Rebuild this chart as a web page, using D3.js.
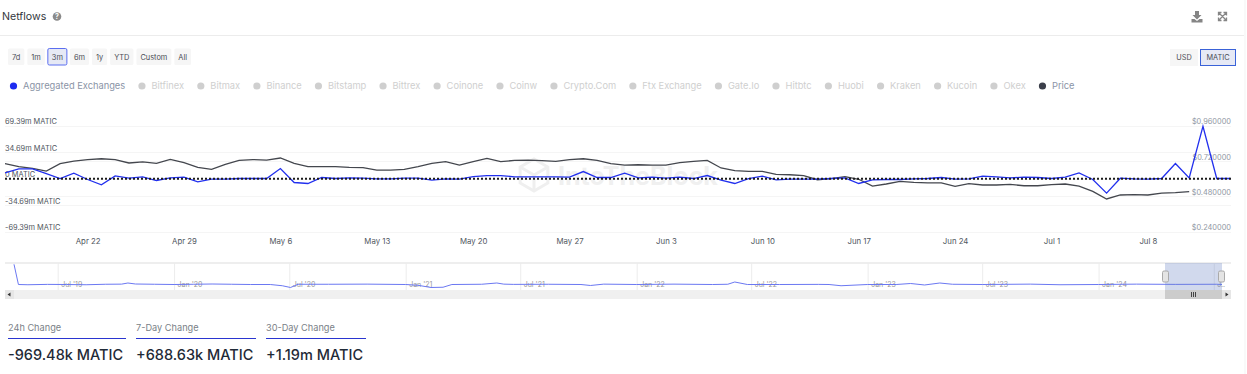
<!DOCTYPE html>
<html>
<head>
<meta charset="utf-8">
<script src="https://cdn.jsdelivr.net/npm/d3@7"></script>
<style>
  html, body { margin: 0; padding: 0; background: #fff; overflow: hidden; }
  svg { display: block; font-family: Inter, "Noto Sans", sans-serif; }
  .domain { display: none; }
</style>
</head>
<body>
<svg id="chart" width="1247" height="374"></svg>
<script>
// netflows in millions of MATIC, one value per day from Apr 16 2024
const netflow = [7.85, 13.09, 13.09, 6.98, 0.44, 7.42, -0.87, -7.85, 3.93, 0.87, 2.62, -2.18, 1.31, 2.18, -3.93,
  -0.44, -0.44, 0.44, 0.44, 0.44, 13.5, -4.8, -6.1, 1.75, 0.44, 1.31, 0.87, 0, 0, 0.87,
  0.87, -1.75, 0, -0.44, 3.05, 4.36, 4.36, 2.62, 2.62, 2.62, 2.62, 2.18, 9.6, 1.75, 1.75,
  7.42, 1.31, 2.18, 0.87, 2.18, 0.44, 4.36, -1.75, -6.1, 0.44, 3.49, -1.31, -0.44, -0.44, -0.44,
  0.44, 1.31, -6.1, -1.31, -0.87, -0.87, 0, 0.44, 1.75, -0.44, 0, 3.49, 2.62, 1.31, 2.18,
  1.75, 0.44, 2.18, 7.85, -0.87, -18.8, 0.87, 0, -0.44, 0.44, 20.1, 1.31, 68.9, 0.44, 0.44];
// price stops a few days before the netflow series does
const price = [0.703, 0.683, 0.671, 0.653, 0.703, 0.721, 0.731, 0.737, 0.731, 0.708, 0.715, 0.706, 0.733, 0.710, 0.678,
  0.665, 0.699, 0.726, 0.731, 0.728, 0.742, 0.706, 0.683, 0.683, 0.683, 0.678, 0.676, 0.660, 0.660, 0.665,
  0.683, 0.706, 0.717, 0.694, 0.717, 0.740, 0.717, 0.726, 0.728, 0.724, 0.719, 0.731, 0.737, 0.726, 0.703,
  0.694, 0.696, 0.694, 0.694, 0.710, 0.719, 0.726, 0.674, 0.656, 0.651, 0.651, 0.631, 0.628, 0.622, 0.594,
  0.601, 0.615, 0.597, 0.551, 0.565, 0.583, 0.576, 0.572, 0.572, 0.549, 0.567, 0.558, 0.558, 0.562, 0.553,
  0.553, 0.560, 0.565, 0.551, 0.515, 0.463, 0.490, 0.492, 0.490, 0.503, 0.506, 0.513];

const leftTicks = [69.39, 34.69, 0, -34.69, -69.39];
const leftLabels = ['69.39m MATIC', '34.69m MATIC', '0 MATIC', '-34.69m MATIC', '-69.39m MATIC'];
const rightTicks = [0.96, 0.72, 0.48, 0.24];
const dateTicks = ['2024-04-22', '2024-04-29', '2024-05-06', '2024-05-13', '2024-05-20', '2024-05-27',
  '2024-06-03', '2024-06-10', '2024-06-17', '2024-06-24', '2024-07-01', '2024-07-08'];

const rangeButtons = ['7d', '1m', '3m', '6m', '1y', 'YTD', 'Custom', 'All'];
const exchanges = ['Aggregated Exchanges', 'Bitfinex', 'Bitmax', 'Binance', 'Bitstamp', 'Bittrex', 'Coinone', 'Coinw',
  'Crypto.Com', 'Ftx Exchange', 'Gate.Io', 'Hitbtc', 'Huobi', 'Kraken', 'Kucoin', 'Okex', 'Price'];
const statLabels = ['24h Change', '7-Day Change', '30-Day Change'];
const statValues = ['-969.48k MATIC', '+688.63k MATIC', '+1.19m MATIC'];

// navigator, whole history
const navDates = ['2019-04-23', '2019-04-30', '2019-05-15', '2019-06-15', '2019-07-15', '2019-08-15', '2019-09-15', '2019-10-10',
  '2019-10-20', '2019-11-01', '2019-12-01', '2020-01-01', '2020-02-01', '2020-03-01', '2020-04-01', '2020-05-01', '2020-06-01',
  '2020-06-20', '2020-07-03', '2020-07-15', '2020-09-01', '2020-11-01', '2021-01-01', '2021-01-20', '2021-02-10', '2021-03-01',
  '2021-03-15', '2021-05-01', '2021-05-25', '2021-06-05', '2021-06-20', '2021-08-15', '2021-10-05', '2021-10-20', '2021-11-10',
  '2022-01-01', '2022-03-01', '2022-05-01', '2022-05-25', '2022-06-05', '2022-06-25', '2022-08-15', '2022-10-15', '2022-11-01',
  '2022-11-20', '2023-01-01', '2023-02-15', '2023-03-10', '2023-04-01', '2023-04-25', '2023-05-15', '2023-07-01', '2023-09-15',
  '2023-11-01', '2024-01-01', '2024-03-01', '2024-05-01', '2024-07-05', '2024-07-14'];
const navValues = [162, 0, -2, 1, 0, -2, 2, 3, 12, 4, 2, 0, 2, 4, 2, 0, 0, -10, -24, 2, 2, 3, 0, -6, -24, -22, 0, 2, 12, 3, 1,
  2, 0, -8, 3, 0, 3, 0, 2, 20, 0, 0, 1, 0, -10, 0, 0, 8, -4, 12, 2, 0, 3, -2, 0, 3, 1, 2, 0];
const navTicks = ['2019-07-01', '2020-01-01', '2020-07-01', '2021-01-01', '2021-07-01', '2022-01-01', '2022-07-01',
  '2023-01-01', '2023-07-01', '2024-01-01', '2024-07-01'];
const navTickLabels = ["Jul '19", "Jan '20", "Jul '20", "Jan '21", "Jul '21", "Jan '22", "Jul '22", "Jan '23", "Jul '23", "Jan '24", "J.."];

const blue = '#2230ee';
const dark = '#44474e';
const parseDay = d3.utcParse('%Y-%m-%d');
const days = d3.utcDay.range(parseDay('2024-04-16'), parseDay('2024-07-15'));

const svg = d3.select('#chart');

// card header
svg.append('text').attr('x', 2).attr('y', 20).attr('font-size', 10.6).attr('fill', '#33373d').text('Netflows');
svg.append('circle').attr('cx', 57).attr('cy', 16.5).attr('r', 4.3).attr('fill', '#8a8a8a');
svg.append('text').attr('x', 57).attr('y', 19.2).attr('text-anchor', 'middle').attr('font-size', 7)
  .attr('font-weight', 700).attr('fill', '#fff').text('?');
svg.append('line').attr('x1', 0).attr('x2', 1244).attr('y1', 35.5).attr('y2', 35.5).attr('stroke', '#ececec');
svg.append('line').attr('x1', 1245).attr('x2', 1245).attr('y1', 0).attr('y2', 374).attr('stroke', '#f3f3f3');

// download + expand icons
svg.append('path').attr('fill', '#858585')
  .attr('d', 'M1195 11h4v4h2.5l-4.500 4.500l-4.500-4.500h2.500zM1191.500 19h3l2.500 2l2.500-2h3v3.500h-11z');
svg.append('path').attr('fill', 'none').attr('stroke', '#858585').attr('stroke-width', 1.3)
  .attr('d', 'M1219 13l7 7M1226 13l-7 7M1218.500 15.500v-3h3M1223.500 12.500h3v3M1218.500 17.500v3h3M1223.500 20.500h3v-3');

// range buttons, laid out from the measured text
let bx = 8;
rangeButtons.forEach(label => {
  const active = label === '3m';
  const g = svg.append('g');
  const rect = g.append('rect').attr('y', 48.5).attr('height', 16.5).attr('rx', 1.5)
    .attr('fill', active ? '#e6e9f5' : '#f6f6f6')
    .attr('stroke', active ? '#5b6ef0' : 'none');
  const t = g.append('text').attr('x', bx + 4).attr('y', 60).attr('font-size', 7.4).attr('fill', '#4a4d55').text(label);
  const w = t.node().getComputedTextLength() + 8;
  rect.attr('x', bx).attr('width', w);
  bx += w + 3;
});

// currency toggle
svg.append('rect').attr('x', 1170).attr('y', 49).attr('width', 28).attr('height', 17).attr('fill', '#f6f6f6');
svg.append('text').attr('x', 1184).attr('y', 60).attr('text-anchor', 'middle').attr('font-size', 7.3)
  .attr('fill', '#4a4d55').text('USD');
svg.append('rect').attr('x', 1200.500).attr('y', 49.500).attr('width', 35).attr('height', 16)
  .attr('fill', '#e6e9f5').attr('stroke', '#3a62d8');
svg.append('text').attr('x', 1218).attr('y', 60).attr('text-anchor', 'middle').attr('font-size', 7.3)
  .attr('fill', '#4a4d55').text('MATIC');

// legend
let lx = 13.5;
exchanges.forEach(name => {
  const on = name === 'Aggregated Exchanges' || name === 'Price';
  svg.append('circle').attr('cx', lx).attr('cy', 86).attr('r', 3.6)
    .attr('fill', name === 'Price' ? '#3b3f4a' : on ? '#1d2bf0' : '#cfcfcf');
  const t = svg.append('text').attr('x', lx + 9.5).attr('y', 89.3).attr('font-size', 9.3)
    .attr('fill', on ? '#8a94a6' : '#cfcfcf').text(name);
  lx += 9.5 + t.node().getComputedTextLength() + 16.75;
});

// main plot
const x = d3.scaleUtc().domain([days[0], days[days.length - 1]]).range([5, 1230.5]);
const yLeft = d3.scaleLinear().domain([-69.39, 69.39]).range([231.7, 126]);
const yRight = d3.scaleLinear().domain([0.24, 0.96]).range([231.7, 126]);

svg.append('g').selectAll('line')
  .data(leftTicks.map(yLeft).concat(rightTicks.map(yRight)))
  .join('line')
  .attr('x1', 5).attr('x2', 1231)
  .attr('y1', d => Math.round(d) + 0.5).attr('y2', d => Math.round(d) + 0.5)
  .attr('stroke', '#f5f5f5');

// watermark
const mark = svg.append('g').attr('fill', 'none').attr('stroke', '#efefef').attr('stroke-width', 3);
const cube = d3.range(6).map(i => {
  const a = Math.PI / 3 * i - Math.PI / 2;
  return [534 + 16 * Math.cos(a), 175 + 16 * Math.sin(a)];
});
mark.append('path').attr('d', d3.line()(cube) + 'Z');
[1, 3, 5].forEach(i => mark.append('line').attr('x1', 534).attr('y1', 175)
  .attr('x2', cube[i][0]).attr('y2', cube[i][1]));
svg.append('text').attr('x', 558).attr('y', 185).attr('font-size', 25).attr('font-weight', 700)
  .attr('fill', '#f0f0f0').text('IntoTheBlock');

const leftAxis = svg.append('g').attr('transform', 'translate(5,0)')
  .call(d3.axisRight(yLeft).tickValues(leftTicks).tickSize(0).tickPadding(0)
    .tickFormat((d, i) => leftLabels[i]));
leftAxis.selectAll('text').attr('dy', -2.2).attr('font-size', 7.4).attr('font-family', 'Inter').attr('fill', '#4f5660');

const rightAxis = svg.append('g').attr('transform', 'translate(1231,0)')
  .call(d3.axisLeft(yRight).tickValues(rightTicks).tickSize(0).tickPadding(0)
    .tickFormat(d => '$' + d3.format('.6f')(d)));
rightAxis.selectAll('text').attr('dy', -2.2).attr('font-size', 7.4).attr('font-family', 'Inter').attr('fill', '#8f97a3');

const bottomAxis = svg.append('g').attr('transform', 'translate(0,232)')
  .call(d3.axisBottom(x).tickValues(dateTicks.map(parseDay)).tickSize(0).tickPadding(6)
    .tickFormat(d3.utcFormat('%b %-d')));
bottomAxis.selectAll('text').attr('font-size', 7.8).attr('font-family', 'Inter').attr('fill', '#4f5660');

svg.append('path').datum(price).attr('fill', 'none').attr('stroke', dark).attr('stroke-width', 1.3)
  .attr('d', d3.line().x((d, i) => x(days[i])).y(d => yRight(d)));
svg.append('path').datum(netflow).attr('fill', 'none').attr('stroke', blue).attr('stroke-width', 1.3)
  .attr('d', d3.line().x((d, i) => x(days[i])).y(d => yLeft(d)));

// dotted zero line goes over the series
svg.append('line').attr('x1', 5).attr('x2', 1231).attr('y1', yLeft(0)).attr('y2', yLeft(0))
  .attr('stroke', '#1c1c1c').attr('stroke-width', 2).attr('stroke-dasharray', '2 2');

// navigator
const navX = d3.scaleUtc().domain([parseDay('2019-04-23'), parseDay('2024-07-14')]).range([14, 1222]);
const navY = d3.scaleLinear().domain([0, 162]).range([284.5, 264.3]);

svg.append('line').attr('x1', 5).attr('x2', 1231).attr('y1', 263).attr('y2', 263).attr('stroke', '#e8e8e8').attr('stroke-width', 1.5);
const navG = svg.append('g').attr('transform', 'translate(0,263)')
  .call(d3.axisBottom(navX).tickValues(navTicks.map(parseDay)).tickSize(27).tickPadding(0)
    .tickFormat((d, i) => navTickLabels[i]));
navG.selectAll('line').attr('stroke', '#ececec');
navG.selectAll('text').attr('text-anchor', 'start').attr('x', 3).attr('y', 24.2).attr('dy', 0)
  .attr('font-size', 7).attr('font-family', 'Inter').attr('fill', '#999');

svg.append('path').datum(navValues).attr('fill', 'none').attr('stroke', '#6b78f2').attr('stroke-width', 1)
  .attr('d', d3.line().x((d, i) => navX(parseDay(navDates[i]))).y(d => navY(d)));

svg.append('rect').attr('x', 1165).attr('y', 263).attr('width', 57).attr('height', 27)
  .attr('fill', '#6882c4').attr('fill-opacity', 0.3);
[1165.500, 1221.500].forEach(hx => {
  svg.append('rect').attr('x', hx - 3).attr('y', 271).attr('width', 6).attr('height', 11).attr('rx', 1.500)
    .attr('fill', '#e4e4e4').attr('stroke', '#aaa');
});

// scrollbar
svg.append('rect').attr('x', 5).attr('y', 290).attr('width', 1226).attr('height', 9).attr('fill', '#f0f0f0');
svg.append('rect').attr('x', 5).attr('y', 290).attr('width', 9).attr('height', 9).attr('fill', '#e6e6e6');
svg.append('rect').attr('x', 1222).attr('y', 290).attr('width', 9).attr('height', 9).attr('fill', '#e6e6e6');
svg.append('rect').attr('x', 1165).attr('y', 290).attr('width', 57).attr('height', 9).attr('fill', '#cccccc');
svg.append('path').attr('fill', '#333').attr('d', 'M10.500 292.500v4l-3-2z');
svg.append('path').attr('fill', '#333').attr('d', 'M1225.500 292.500v4l3-2z');
[1191.500, 1193.500, 1195.500].forEach(tx => {
  svg.append('line').attr('x1', tx).attr('x2', tx).attr('y1', 292).attr('y2', 297).attr('stroke', '#444');
});

// change stats
const statX = [8, 136, 266];
const statEnd = [126, 256, 366];
statLabels.forEach((label, i) => {
  svg.append('text').attr('x', statX[i]).attr('y', 331).attr('font-size', 9.2).attr('fill', '#7a7f87').text(label);
  svg.append('line').attr('x1', statX[i]).attr('x2', statEnd[i]).attr('y1', 338.500).attr('y2', 338.500).attr('stroke', '#2a35d0');
  svg.append('text').attr('x', statX[i]).attr('y', 359.5).attr('font-size', 14.5).attr('font-weight', 500).attr('fill', '#1f2a37').text(statValues[i]);
});
</script>
</body>
</html>
